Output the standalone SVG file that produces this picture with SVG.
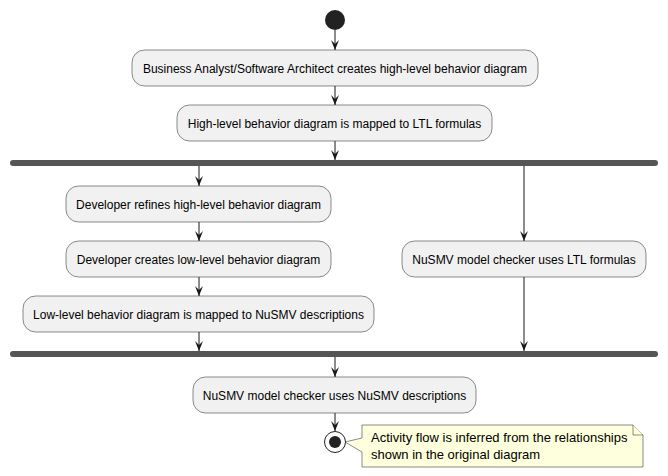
<svg xmlns="http://www.w3.org/2000/svg" width="668" height="476" viewBox="0 0 668 476">
<defs>
<style>
.act{fill:#F1F1F1;stroke:#181818;stroke-width:0.5}
.t{font-family:"Liberation Sans",Arial,sans-serif;font-size:12px;fill:#000;text-anchor:middle}
.nt{font-family:"Liberation Sans",Arial,sans-serif;font-size:13px;fill:#000}
.bar{fill:#555555}
.ln{stroke:#181818;stroke-width:1;fill:none}
.note{fill:#FEFFDD;stroke:#181818;stroke-width:0.5}
</style>
<marker id="ah" viewBox="0 0 10 10" refX="10" refY="5" markerWidth="10" markerHeight="10" markerUnits="userSpaceOnUse" orient="auto">
<path d="M0,1 L10,5 L0,9 L4,5 Z" fill="#181818"/>
</marker>
</defs>
<rect width="668" height="476" fill="#FFFFFF"/>
<g id="start"><circle cx="335" cy="20" r="10" fill="#222222"/></g>
<g id="a1"><rect class="act" x="132" y="50" width="406" height="36" rx="12.5"/><text class="t" x="335" y="72.5">Business Analyst/Software Architect creates high-level behavior diagram</text></g>
<g id="a2"><rect class="act" x="177" y="105" width="315" height="36" rx="12.5"/><text class="t" x="334.5" y="127.5">High-level behavior diagram is mapped to LTL formulas</text></g>
<g id="fork"><rect class="bar" x="10" y="160" width="648" height="6" rx="3"/></g>
<g id="a3"><rect class="act" x="66" y="186" width="265" height="36" rx="12.5"/><text class="t" x="198.5" y="208.5">Developer refines high-level behavior diagram</text></g>
<g id="a4"><rect class="act" x="66" y="241" width="265" height="36" rx="12.5"/><text class="t" x="198.5" y="263.5">Developer creates low-level behavior diagram</text></g>
<g id="a5"><rect class="act" x="23" y="296" width="351" height="36" rx="12.5"/><text class="t" x="198.5" y="318.5">Low-level behavior diagram is mapped to NuSMV descriptions</text></g>
<g id="a6"><rect class="act" x="402" y="241" width="244" height="36" rx="12.5"/><text class="t" x="524" y="263.5">NuSMV model checker uses LTL formulas</text></g>
<g id="join"><rect class="bar" x="10" y="351" width="648" height="6" rx="3"/></g>
<g id="a7"><rect class="act" x="193" y="377" width="283" height="36" rx="12.5"/><text class="t" x="334.5" y="399.5">NuSMV model checker uses NuSMV descriptions</text></g>
<g id="end"><circle cx="335" cy="442" r="10.5" fill="#FFFFFF" stroke="#222222" stroke-width="1"/><circle cx="335" cy="442" r="6" fill="#222222"/></g>
<g id="note"><path class="note" d="M362,425 L633,425 L643,435 L643,467 L362,467 L362,452 L345,442 L362,438 Z"/><path class="note" d="M633,425 L633,435 L643,435"/><text class="nt" x="371" y="442">Activity flow is inferred from the relationships</text><text class="nt" x="371" y="459">shown in the original diagram</text></g>
<g id="connectors">
<line class="ln" x1="335" y1="30" x2="335" y2="50" marker-end="url(#ah)"/>
<line class="ln" x1="335" y1="86" x2="335" y2="105" marker-end="url(#ah)"/>
<line class="ln" x1="335" y1="141" x2="335" y2="160" marker-end="url(#ah)"/>
<line class="ln" x1="199" y1="166" x2="199" y2="186" marker-end="url(#ah)"/>
<line class="ln" x1="199" y1="222" x2="199" y2="241" marker-end="url(#ah)"/>
<line class="ln" x1="199" y1="277" x2="199" y2="296" marker-end="url(#ah)"/>
<line class="ln" x1="199" y1="332" x2="199" y2="351" marker-end="url(#ah)"/>
<line class="ln" x1="524" y1="166" x2="524" y2="241" marker-end="url(#ah)"/>
<line class="ln" x1="524" y1="277" x2="524" y2="351" marker-end="url(#ah)"/>
<line class="ln" x1="335" y1="357" x2="335" y2="377" marker-end="url(#ah)"/>
<line class="ln" x1="335" y1="413" x2="335" y2="431" marker-end="url(#ah)"/>
</g>
</svg>
